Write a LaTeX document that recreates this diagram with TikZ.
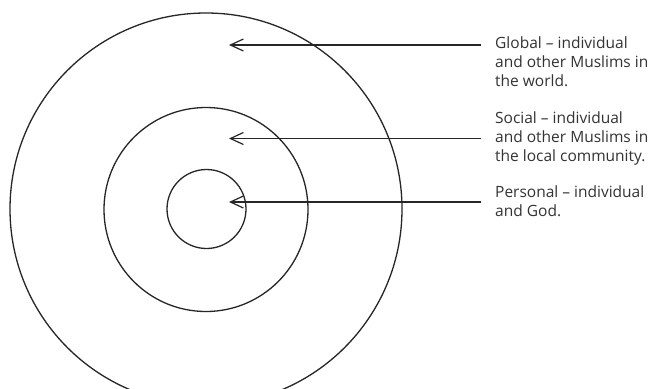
\documentclass[tikz,border=0pt]{standalone}
\usepackage{fontspec}
\setmainfont{Open Sans}
\usetikzlibrary{arrows.meta}
\tikzset{
  ring/.style={draw=black!85, line width=1.3pt, circle, inner sep=0pt, fill=none},
  ptr/.style={draw=black!85, line width=1.2pt, -{Straight Barb[length=13pt,width=12pt,line width=1.2pt]}},
  lbl/.style={anchor=base west, inner sep=0pt, align=left, text=black!80,
    font=\fontsize{15.5}{19}\selectfont},
}
\begin{document}
\begin{tikzpicture}[x=1pt,y=-1pt]
\useasboundingbox (0,0) rectangle (658,388);
\fill[white] (0,0) rectangle (658,388);
\begin{scope}
\clip (0,0) rectangle (658,388);
\node[ring, minimum size=392pt] (outer) at (206,209) {};
\end{scope}
\node[ring, minimum size=204pt] (middle) at (206,209.5) {};
\node[ring, minimum size=79pt] (inner) at (206.5,209) {};

\node[lbl] (global) at (495,86.5) {Global -- individual\\and other Muslims in\\the world.};
\node[lbl] (social) at (495,161.5) {Social -- individual\\and other Muslims in\\the local community.};
\node[lbl] (personal) at (495,216.5) {Personal -- individual\\and God.};

\coordinate (gs) at (481,45);
\coordinate (gt) at (229,45);
\coordinate (ss) at (481,138.5);
\coordinate (st) at (229,138.5);
\coordinate (ps) at (481,202);
\coordinate (pt) at (229,202);
\draw[ptr] (gs) -- (gt);
\draw[ptr] (ss) -- (st);
\draw[ptr] (ps) -- (pt);
\end{tikzpicture}
\end{document}
